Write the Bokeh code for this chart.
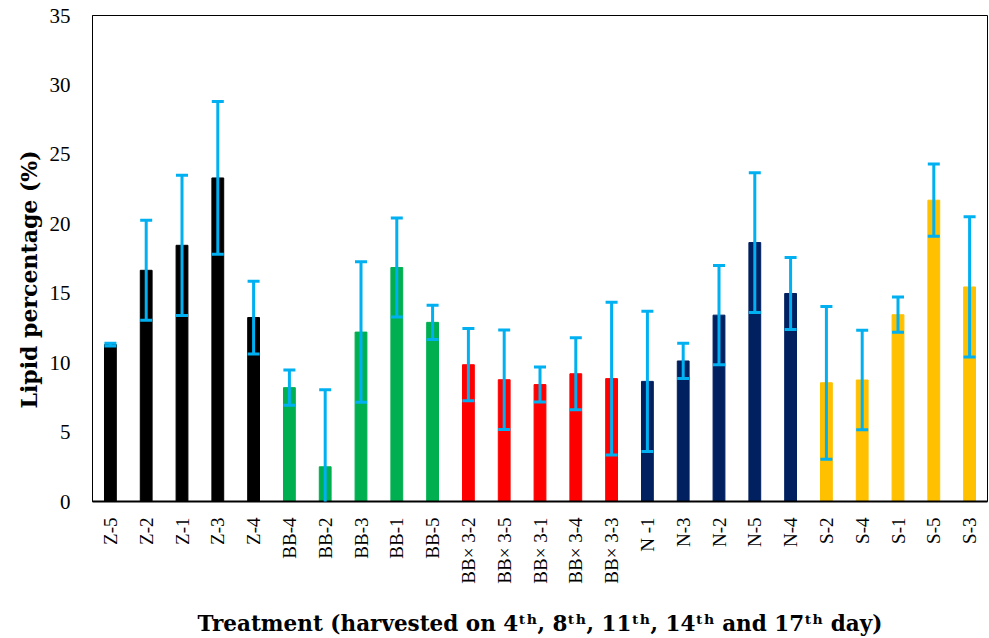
import math
from bokeh.plotting import figure
from bokeh.models import ColumnDataSource, Whisker, TeeHead, FactorRange, Range1d, FixedTicker, Title
from bokeh.embed import file_html
from bokeh.resources import INLINE

categories = ["Z-5", "Z-2", "Z-1", "Z-3", "Z-4",
              "BB-4", "BB-2", "BB-3", "BB-1", "BB-5",
              "BB\u00d7 3-2", "BB\u00d7 3-5", "BB\u00d7 3-1", "BB\u00d7 3-4", "BB\u00d7 3-3",
              "N -1", "N-3", "N-2", "N-5", "N-4",
              "S-2", "S-4", "S-1", "S-5", "S-3"]
lipid = [11.3, 16.65, 18.45, 23.3, 13.25,
         8.2, 2.5, 12.2, 16.85, 12.9,
         9.85, 8.77, 8.42, 9.2, 8.85,
         8.65, 10.12, 13.42, 18.65, 14.98,
         8.55, 8.75, 13.45, 21.7, 15.45]
errors = [0.1, 3.6, 5.05, 5.5, 2.62,
          1.27, 5.55, 5.06, 3.56, 1.24,
          2.6, 3.58, 1.26, 2.6, 5.5,
          5.05, 1.27, 3.58, 5.03, 2.6,
          5.5, 3.58, 1.27, 2.6, 5.05]
groups = ["Z"] * 5 + ["BB"] * 5 + ["BBx3"] * 5 + ["N"] * 5 + ["S"] * 5
group_colors = {"Z": "#000000", "BB": "#00B050", "BBx3": "#FF0000", "N": "#002060", "S": "#FFC000"}
y_ticks = [0, 5, 10, 15, 20, 25, 30, 35]

colors = [group_colors[g] for g in groups]
upper = [v + e for v, e in zip(lipid, errors)]
lower = [v - e for v, e in zip(lipid, errors)]
src = ColumnDataSource(dict(x=categories, top=lipid, color=colors, upper=upper, lower=lower))

p = figure(width=989, height=638, output_backend="svg", toolbar_location=None,
           x_range=FactorRange(factors=categories, range_padding=0),
           y_range=Range1d(0, 35),
           min_border_left=92, min_border_right=2, min_border_top=15, min_border_bottom=10)

p.vbar(x="x", top="top", width=0.33, color="color", source=src)

wh = Whisker(base="x", upper="upper", lower="lower", source=src,
             line_color="#00B0F0", line_width=3, level="overlay",
             upper_head=TeeHead(size=12, line_color="#00B0F0", line_width=3),
             lower_head=TeeHead(size=12, line_color="#00B0F0", line_width=3))
p.add_layout(wh)

p.xgrid.grid_line_color = None
p.ygrid.grid_line_color = None
p.outline_line_color = "black"
p.outline_line_width = 1

p.yaxis.ticker = FixedTicker(ticks=y_ticks)
p.yaxis.major_tick_line_color = None
p.yaxis.minor_tick_line_color = None
p.yaxis.axis_line_color = "black"
p.yaxis.major_label_text_font = "Liberation Serif"
p.yaxis.major_label_text_font_size = "21px"
p.yaxis.major_label_text_color = "black"
p.yaxis.major_label_standoff = 16

ytitle = Title(text="Lipid percentage (%)", align="left", offset=93,
               text_font="DejaVu Serif", text_font_style="bold",
               text_font_size="22px", text_color="black", standoff=10)
p.add_layout(ytitle, "left")

p.xaxis.major_tick_line_color = None
p.xaxis.minor_tick_line_color = None
p.xaxis.axis_line_color = "black"
p.xaxis.axis_line_width = 2
p.xaxis.major_label_orientation = math.pi / 2
p.xaxis.major_label_text_font = "Liberation Serif"
p.xaxis.major_label_text_font_size = "19px"
p.xaxis.major_label_text_color = "black"
p.xaxis.major_label_standoff = 10
p.xaxis.axis_label = "Treatment (harvested on 4\u1d57\u02b0, 8\u1d57\u02b0, 11\u1d57\u02b0, 14\u1d57\u02b0 and 17\u1d57\u02b0 day)"
p.xaxis.axis_label_text_font = "DejaVu Serif"
p.xaxis.axis_label_text_font_style = "bold"
p.xaxis.axis_label_text_font_size = "21.5px"
p.xaxis.axis_label_text_color = "black"
p.xaxis.axis_label_standoff = 24

open("out.html", "w").write(file_html(p, INLINE))
